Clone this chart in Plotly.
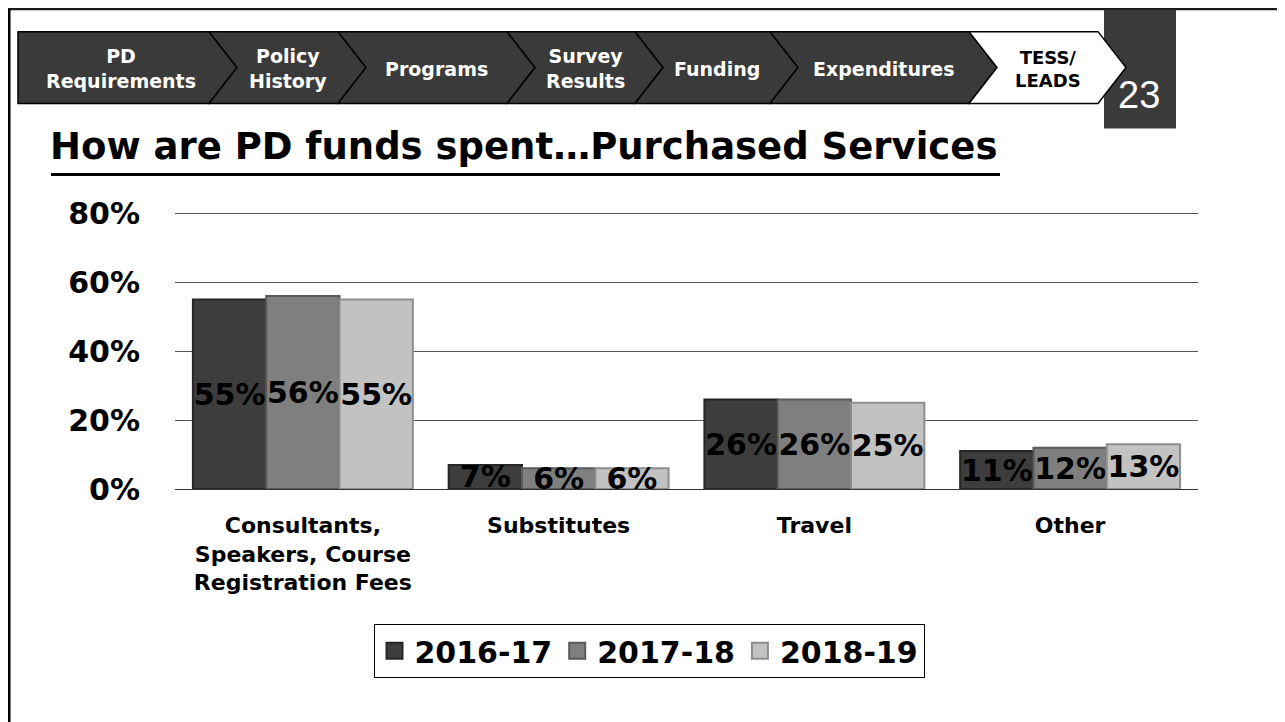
import plotly.graph_objects as go

# --- chart data ---------------------------------------------------------
categories = [
    "Consultants,<br>Speakers, Course<br>Registration Fees",
    "Substitutes",
    "Travel",
    "Other",
]
years = ["2016-17", "2017-18", "2018-19"]
values_2016 = [55, 7, 26, 11]
values_2017 = [56, 6, 26, 12]
values_2018 = [55, 6, 25, 13]
y_ticks = [0, 20, 40, 60, 80]
y_tick_labels = ["0%", "20%", "40%", "60%", "80%"]

nav_labels = ["PD<br>Requirements", "Policy<br>History", "Programs",
              "Survey<br>Results", "Funding", "Expenditures", "TESS/<br>LEADS"]
slide_number = "23"
title_text = "How are PD funds spent\u2026Purchased Services"

# --- layout helpers ------------------------------------------------------
# page body has an 8px default margin, so screen pixel = figure pixel + 8
W, H = 1285, 722
OFF = 8
Y_TOP = 80.4
plot_l, plot_r, plot_b = 175, 1198, 489
plot_t = 213 - (Y_TOP - 80) / 80 * (plot_b - 213)
ML = plot_l - OFF
MR = W - (plot_r - OFF)
MT = plot_t - OFF
MB = H - (plot_b - OFF)
FONT = "DejaVu Sans"


def px(x):
    return (x - plot_l) / (plot_r - plot_l)


def py(y):
    return (plot_b - y) / (plot_b - plot_t)


fills = ["#3d3d3d", "#7f7f7f", "#c2c2c2"]
edges = ["#262626", "#5a5a5a", "#8e8e8e"]

fig = go.Figure()

for name, vals, fill, edge in zip(years, [values_2016, values_2017, values_2018], fills, edges):
    fig.add_trace(go.Bar(
        x=categories,
        y=vals,
        name=name,
        marker=dict(color=fill, line=dict(color=edge, width=2)),
        text=[f"{v}%" for v in vals],
        textposition="inside",
        insidetextanchor="middle",
        textangle=0,
        constraintext="none",
        insidetextfont=dict(family=FONT, size=30, color="black", weight="bold"),
        showlegend=False,
        hoverinfo="skip",
    ))
    # legend proxy with a bigger square swatch
    fig.add_trace(go.Scatter(
        x=[None], y=[None], mode="markers", name=name,
        marker=dict(symbol="square", size=16, color=fill, line=dict(color=edge, width=2)),
    ))

shapes = []

# slide frame
shapes.append(dict(type="line", xref="paper", yref="paper",
                   x0=px(8), x1=px(W + 20), y0=py(8), y1=py(8),
                   line=dict(color="#1a1a1a", width=3)))
shapes.append(dict(type="line", xref="paper", yref="paper",
                   x0=px(9), x1=px(9), y0=py(8), y1=py(H + 20),
                   line=dict(color="#000000", width=3)))

# page number box
shapes.append(dict(type="rect", xref="paper", yref="paper",
                   x0=px(1104), x1=px(1176), y0=py(9), y1=py(128),
                   fillcolor="#3a3a3a", line=dict(width=0)))

# chevron nav bar
nav_left, nav_top, nav_bot, d = 18, 31, 103, 28
nav_mid = (nav_top + nav_bot) / 2
seps = [209, 338, 507, 635, 770, 969, 1098]
annotations = []
for i, label in enumerate(nav_labels):
    xl = nav_left if i == 0 else seps[i - 1]
    xr = seps[i]
    pts = [(xl, nav_top), (xr, nav_top), (xr + d, nav_mid), (xr, nav_bot), (xl, nav_bot)]
    if i > 0:
        pts.append((xl + d, nav_mid))
    path = "M " + " L ".join(f"{px(a):.5f},{py(b):.5f}" for a, b in pts) + " Z"
    last = i == len(nav_labels) - 1
    shapes.append(dict(type="path", xref="paper", yref="paper", path=path,
                       fillcolor="#ffffff" if last else "#3a3a3a",
                       line=dict(color="#000000", width=1.5)))
    cx = (xl + xr) / 2 + d / 2 if i > 0 else (xl + xr + d / 2) / 2
    annotations.append(dict(
        x=px(cx), y=py(nav_mid + 1), xref="paper", yref="paper",
        text=f"<b>{label}</b>", showarrow=False, xanchor="center", yanchor="middle",
        font=dict(family=FONT, size=18 if last else 19, color="#000000" if last else "#ffffff"),
    ))

annotations.append(dict(
    x=px(1139), y=py(94), xref="paper", yref="paper", text=slide_number,
    showarrow=False, xanchor="center", yanchor="middle",
    font=dict(family="Liberation Sans", size=38, color="#ffffff", weight=300),
))

# title
annotations.append(dict(
    x=px(48), y=py(146), xref="paper", yref="paper", text=f"<b>{title_text}</b>",
    showarrow=False, xanchor="left", yanchor="middle",
    font=dict(family=FONT, size=37, color="#000000"),
))
shapes.append(dict(type="line", xref="paper", yref="paper",
                   x0=px(51), x1=px(1000), y0=py(174), y1=py(174),
                   line=dict(color="#000000", width=3)))

fig.update_layout(
    width=W, height=H,
    margin=dict(l=ML, r=MR, t=MT, b=MB),
    paper_bgcolor="white", plot_bgcolor="rgba(0,0,0,0)",
    barmode="group", bargap=0.14, bargroupgap=0,
    font=dict(family=FONT, color="black"),
    shapes=shapes,
    annotations=annotations,
    legend=dict(
        orientation="h", xanchor="center", yanchor="top",
        x=px(649), y=py(624),
        bordercolor="#000000", borderwidth=1, bgcolor="white",
        font=dict(family=FONT, size=30, color="black", weight="bold"),
        itemsizing="trace", tracegroupgap=0,
    ),
    xaxis=dict(
        categoryorder="array", categoryarray=categories,
        showgrid=False, showline=False, ticks="", zeroline=False,
        tickfont=dict(family=FONT, size=22, color="black", weight="bold"),
        ticklabelstandoff=21, fixedrange=True,
    ),
    yaxis=dict(
        range=[0, Y_TOP], tickvals=y_ticks, ticktext=y_tick_labels,
        showgrid=True, gridcolor="#555555", gridwidth=1,
        zeroline=True, zerolinecolor="#333333", zerolinewidth=1,
        showline=False, ticks="",
        tickfont=dict(family=FONT, size=30, color="black", weight="bold"),
        ticklabelstandoff=34, fixedrange=True,
    ),
)

fig.write_html("out.html")
